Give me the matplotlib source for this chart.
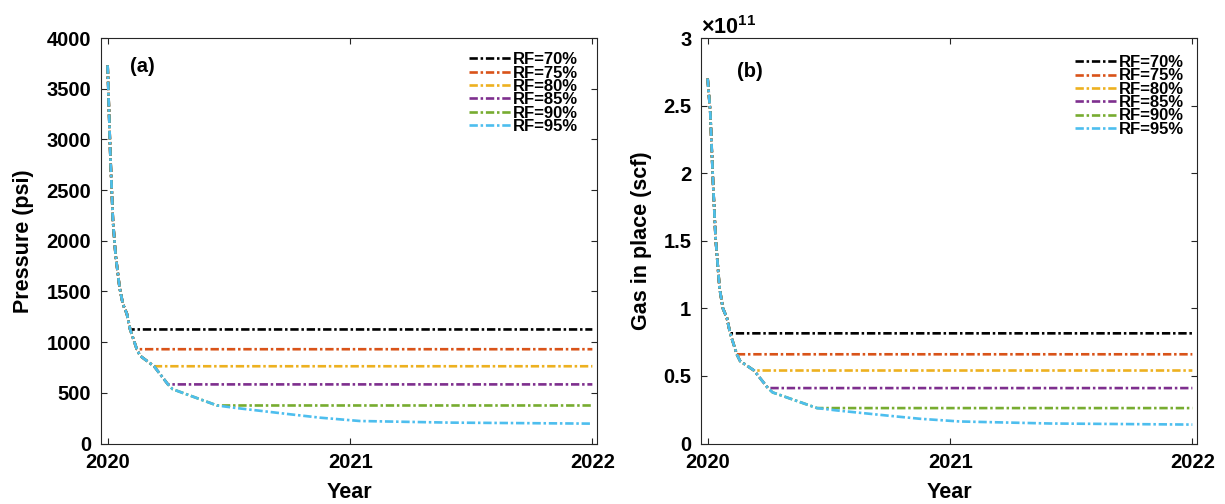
import numpy as np
import matplotlib
matplotlib.use("Agg")
import matplotlib.pyplot as plt
import matplotlib.dates as mdates
from matplotlib.ticker import FuncFormatter, MultipleLocator

# Depletion profile sampled in days from 2020-01-01 (RF=95% path)
days = np.array([0, 4, 8, 12, 18, 23, 29, 34, 44, 49, 70, 91, 98, 165,
                 194, 274, 320, 380, 516, 731])
pressure_psi = np.array([3730, 2860, 2200, 1860, 1540, 1375, 1280, 1125, 930,
                         865, 762, 583, 536, 375, 350, 289, 255, 222, 206, 196])
gas_in_place_scf = np.array([2.70e11, 2.45e11, 1.95e11, 1.52e11, 1.15e11,
                             1.00e11, 0.93e11, 0.815e11, 0.66e11, 0.61e11,
                             0.54e11, 0.41e11, 0.378e11, 0.262e11, 0.245e11,
                             0.205e11, 0.183e11, 0.163e11, 0.148e11, 0.14e11])

# Recovery-factor cases and the day on which each one reaches its target
rf_labels = ["RF=70%", "RF=75%", "RF=80%", "RF=85%", "RF=90%", "RF=95%"]
rf_end_days = [34, 44, 70, 91, 165, 731]
rf_colors = ["#000000", "#D95319", "#EDB120", "#7E2F8E", "#77AC30", "#4DBEEE"]

year_ticks = ["2020-01-01", "2021-01-01", "2022-01-01"]

plt.rcParams["font.family"] = ["Liberation Sans", "DejaVu Sans"]
plt.rcParams["font.weight"] = "bold"
plt.rcParams["axes.labelweight"] = "bold"
plt.rcParams["mathtext.fontset"] = "custom"
plt.rcParams["mathtext.rm"] = "Liberation Sans"
plt.rcParams["lines.scale_dashes"] = False

start = np.datetime64("2020-01-01")
dates = start + days.astype("timedelta64[D]")

W, H = 1225, 504
fig = plt.figure(figsize=(W / 100, H / 100), dpi=100)
bottom = 1 - 443.5 / H
height = 405.5 / H
ax_a = fig.add_axes([101 / W, bottom, 496 / W, height])
ax_b = fig.add_axes([701 / W, bottom, 496 / W, height])

dash = (6, 2.0, 1.8, 2.0)


def draw_cases(ax, values):
    for label, end_day, color in zip(rf_labels, rf_end_days, rf_colors):
        keep = days <= end_day
        x = np.append(dates[keep], dates[-1])
        y = np.append(values[keep], values[keep][-1])
        ax.plot(x, y, color=color, lw=1.9, linestyle=(0, dash), label=label)


def style_axes(ax):
    ax.set_xlim(np.datetime64("2019-12-22"), np.datetime64("2022-01-08"))
    ax.set_xticks(np.array(year_ticks, dtype="datetime64[D]"))
    ax.xaxis.set_major_formatter(mdates.DateFormatter("%Y"))
    ax.tick_params(direction="in", length=4, width=0.8, top=True, right=True,
                   labelsize=14.5, colors="#262626", labelcolor="black")
    ax.tick_params(axis="y", pad=7)
    ax.tick_params(axis="x", pad=7)
    for s in ax.spines.values():
        s.set_color("#262626")
        s.set_linewidth(0.8)
    ax.set_xlabel("Year", fontsize=15.5, labelpad=7)


def add_legend(ax, anchor):
    ax.legend(loc="upper right", bbox_to_anchor=anchor, frameon=False,
              fontsize=12, handlelength=2.5, handletextpad=0.12,
              labelspacing=-0.1, borderpad=0, borderaxespad=0)


draw_cases(ax_a, pressure_psi)
style_axes(ax_a)
ax_a.set_ylim(0, 4000)
ax_a.yaxis.set_major_locator(MultipleLocator(500))
ax_a.set_ylabel("Pressure (psi)", fontsize=15.5, labelpad=9)
ax_a.text(0.083, 0.929, "(a)", transform=ax_a.transAxes, fontsize=14.5,
          ha="center", va="center")
add_legend(ax_a, (0.962, 0.965))

draw_cases(ax_b, gas_in_place_scf)
style_axes(ax_b)
ax_b.set_ylim(0, 3e11)
ax_b.yaxis.set_major_locator(MultipleLocator(0.5e11))
ax_b.yaxis.set_major_formatter(FuncFormatter(lambda v, p: "%g" % (v / 1e11)))
ax_b.set_ylabel("Gas in place (scf)", fontsize=15.5, labelpad=8)
ax_b.text(0.0, 0.998, r"$\times10^{11}$", transform=ax_b.transAxes,
          fontsize=15.5, ha="left", va="bottom", fontweight="normal")
ax_b.text(0.099, 0.917, "(b)", transform=ax_b.transAxes, fontsize=14.5,
          ha="center", va="center")
add_legend(ax_b, (0.973, 0.958))

fig.savefig("out.png", dpi=100, facecolor="white")
